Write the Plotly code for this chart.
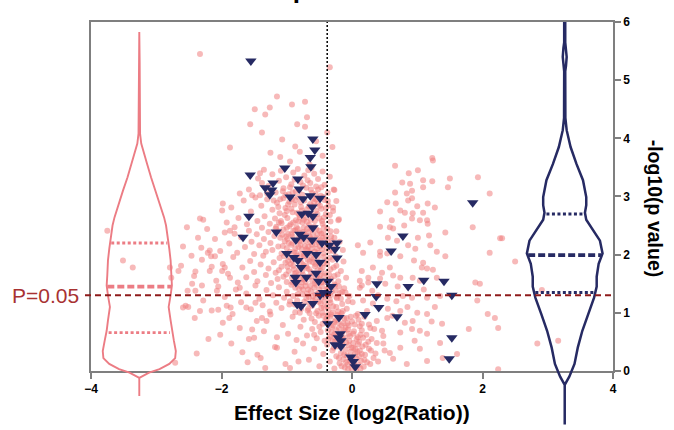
import plotly.graph_objects as go

# ---------------- layout constants ----------------
# The photographed page is squeezed vertically by ~430/438, so the layout is
# laid out on a 438 px tall canvas and reference pixel rows are scaled up.
VIEW_SCALE = 438 / 430
W, H = 674, 438
def vy(py_ref):
    return py_ref * VIEW_SCALE

ML, MR, MB = 91, 61, 0
MT = round(vy(22))
PLOT_BOTTOM_PX = vy(370)      # pixel row of y = 0

X_RANGE = [-4, 4]
Y_RANGE = [0, 6]
x_ticks = [-4, -2, 0, 2, 4]
y_ticks = [0, 1, 2, 3, 4, 5, 6]

p_threshold_y = 1.301         # -log10(0.05)
effect_cut = -0.38            # vertical dotted line
title_text = "Up Proteins"
x_title = "Effect Size (log2(Ratio))"
y_title = "-log10(p value)"
p_label = "P=0.05"

# ---------------- pink points (all measurements) ----------------
pink_upper = [(-2.33,5.45),(-0.34,5.22),(-1.15,4.72),(-0.92,4.58),(-0.72,4.63),(-1.49,4.50),
    (-1.26,4.53),(-1.33,4.41),(-1.56,4.24),(-0.69,4.36),(-0.84,4.24),(-0.72,4.20),(-1.38,4.10),
    (-0.38,4.10),(-1.87,3.84),(-1.07,3.98),(-0.87,3.86),(-0.80,3.77),(-1.10,3.68),(-0.95,3.60),
    (-0.55,3.95),(-0.45,3.70),(-1.25,3.75),(-0.65,3.55),(-0.30,3.85)]
pink_band_30 = [(-1.58,3.12),(-1.44,3.31),(-1.41,3.02),(-1.35,3.46),(-1.28,3.18),(-1.22,3.38),
    (-1.17,3.07),(-1.12,3.27),(-1.09,3.44),(-1.05,3.14),(-1.01,3.33),(-0.97,3.04),(-0.93,3.21),
    (-0.90,3.41),(-0.86,3.09),(-0.83,3.47),(-0.79,3.25),(-0.76,3.03),(-0.73,3.36),(-0.70,3.15),
    (-0.67,3.45),(-0.64,3.23),(-0.61,3.06),(-0.58,3.39),(-0.55,3.17),(-0.52,3.30),(-0.48,3.01),
    (-0.45,3.43),(-0.42,3.20),(-0.37,3.06),(-0.34,3.34),(-0.27,3.11),(-1.30,3.05),(-0.88,3.29),
    (-0.62,3.49)]
pink_band_25 = [(-1.92,2.55),(-1.85,2.81),(-1.74,2.63),(-1.66,2.93),(-1.61,2.52),(-1.55,2.74),
    (-1.48,2.98),(-1.45,2.58),(-1.39,2.84),(-1.34,2.66),(-1.30,2.95),(-1.26,2.53),(-1.22,2.77),
    (-1.18,2.62),(-1.15,2.89),(-1.11,2.71),(-1.08,2.54),(-1.05,2.97),(-1.02,2.80),(-0.99,2.63),
    (-0.96,2.91),(-0.94,2.52),(-0.91,2.73),(-0.88,2.86),(-0.86,2.59),(-0.83,2.99),(-0.81,2.68),
    (-0.78,2.82),(-0.76,2.55),(-0.73,2.93),(-0.71,2.64),(-0.69,2.78),(-0.66,2.51),(-0.64,2.87),
    (-0.62,2.69),(-0.59,2.96),(-0.57,2.58),(-0.55,2.76),(-0.52,2.88),(-0.50,2.62),(-0.47,2.79),
    (-0.45,2.53),(-0.42,2.94),(-0.40,2.70),(-0.36,2.84),(-0.33,2.57),(-0.29,2.75),(-0.24,2.92),
    (-0.20,2.61),(-1.00,2.75),(-0.84,2.72),(-0.74,2.60),(-0.60,2.83),(-0.92,2.95),(-1.20,2.93)]
pink_band_20 = [(-2.31,2.12),(-2.22,2.44),(-2.10,2.27),(-2.02,2.06),(-1.95,2.38),(-1.88,2.19),
    (-1.80,2.47),(-1.76,2.03),(-1.70,2.30),(-1.64,2.13),(-1.58,2.41),(-1.54,2.22),(-1.50,2.01),
    (-1.46,2.35),(-1.42,2.16),(-1.38,2.46),(-1.35,2.27),(-1.32,2.05),(-1.28,2.39),(-1.25,2.20),
    (-1.22,2.08),(-1.19,2.32),(-1.16,2.48),(-1.13,2.14),(-1.10,2.29),(-1.08,2.02),(-1.05,2.43),
    (-1.03,2.23),(-1.00,2.11),(-0.98,2.36),(-0.96,2.49),(-0.93,2.17),(-0.91,2.31),(-0.89,2.04),
    (-0.87,2.42),(-0.84,2.24),(-0.82,2.13),(-0.80,2.38),(-0.78,2.01),(-0.76,2.27),(-0.74,2.46),
    (-0.72,2.15),(-0.70,2.33),(-0.68,2.07),(-0.66,2.40),(-0.64,2.21),(-0.62,2.10),(-0.60,2.35),
    (-0.58,2.48),(-0.56,2.18),(-0.54,2.28),(-0.52,2.03),(-0.50,2.41),(-0.48,2.25),(-0.46,2.09),
    (-0.44,2.37),(-0.41,2.19),(-0.38,2.45),(-0.35,2.06),(-0.32,2.31),(-0.28,2.14),(-0.24,2.40),
    (-0.19,2.22),(-0.14,2.08),(-0.97,2.20),(-0.85,2.47),(-0.79,2.17),(-0.69,2.44),(-0.57,2.05),
    (-1.12,2.40)]
pink_band_15 = [(-2.42,1.63),(-2.30,1.91),(-2.18,1.72),(-2.08,1.55),(-1.98,1.84),(-1.90,1.67),
    (-1.82,1.96),(-1.75,1.52),(-1.68,1.78),(-1.62,1.61),(-1.56,1.89),(-1.50,1.70),(-1.45,1.54),
    (-1.40,1.83),(-1.36,1.98),(-1.32,1.65),(-1.28,1.76),(-1.24,1.51),(-1.20,1.87),(-1.17,1.69),
    (-1.14,1.58),(-1.11,1.94),(-1.08,1.79),(-1.05,1.62),(-1.02,1.86),(-1.00,1.53),(-0.97,1.72),
    (-0.95,1.95),(-0.92,1.60),(-0.90,1.81),(-0.88,1.67),(-0.85,1.50),(-0.83,1.90),(-0.81,1.74),
    (-0.79,1.57),(-0.77,1.85),(-0.75,1.65),(-0.73,1.97),(-0.71,1.53),(-0.69,1.77),(-0.67,1.62),
    (-0.65,1.88),(-0.63,1.70),(-0.61,1.55),(-0.59,1.93),(-0.57,1.80),(-0.55,1.59),(-0.53,1.73),
    (-0.51,1.86),(-0.49,1.64),(-0.47,1.52),(-0.45,1.78),(-0.43,1.96),(-0.41,1.68),(-0.38,1.84),
    (-0.36,1.57),(-0.33,1.75),(-0.30,1.91),(-0.27,1.63),(-0.24,1.81),(-0.21,1.54),(-0.17,1.72),
    (-0.13,1.88),(-0.09,1.60),(-0.98,1.89),(-0.86,1.59),(-0.74,1.82),(-0.62,1.95),(-0.50,1.58),
    (-1.12,1.73)]
pink_band_10 = [(-2.55,1.12),(-2.40,1.38),(-2.28,1.21),(-2.15,1.04),(-2.05,1.45),(-1.95,1.27),
    (-1.86,1.09),(-1.78,1.40),(-1.70,1.18),(-1.62,1.33),(-1.55,1.06),(-1.48,1.47),(-1.42,1.24),
    (-1.37,1.13),(-1.31,1.39),(-1.26,1.02),(-1.21,1.30),(-1.16,1.17),(-1.12,1.44),(-1.08,1.08),
    (-1.04,1.26),(-1.00,1.36),(-0.96,1.14),(-0.93,1.48),(-0.90,1.29),(-0.87,1.01),(-0.84,1.21),
    (-0.81,1.41),(-0.78,1.07),(-0.76,1.32),(-0.73,1.19),(-0.71,1.46),(-0.68,1.04),(-0.66,1.27),
    (-0.63,1.37),(-0.61,1.12),(-0.58,1.43),(-0.56,1.23),(-0.53,1.03),(-0.51,1.34),(-0.48,1.16),
    (-0.46,1.45),(-0.43,1.09),(-0.41,1.28),(-0.39,1.40),(-0.36,1.05),(-0.34,1.22),(-0.31,1.36),
    (-0.29,1.11),(-0.26,1.47),(-0.23,1.25),(-0.21,1.02),(-0.18,1.34),(-0.15,1.15),(-0.12,1.42),
    (-0.08,1.07),(-0.04,1.29),(0.01,1.18),(-0.55,1.48),(-0.65,1.16),(-0.45,1.00),(-0.35,1.45),
    (-0.75,1.40),(-0.24,1.10),(-0.95,1.20)]
pink_band_05 = [(-2.02,0.62),(-1.88,0.91),(-1.72,0.74),(-1.58,0.55),(-1.46,0.86),(-1.35,0.68),
    (-1.25,0.97),(-1.15,0.58),(-1.06,0.79),(-0.98,0.64),(-0.91,0.93),(-0.85,0.53),(-0.79,0.76),
    (-0.74,0.88),(-0.69,0.61),(-0.65,0.99),(-0.61,0.72),(-0.57,0.84),(-0.54,0.56),(-0.51,0.95),
    (-0.48,0.67),(-0.45,0.81),(-0.42,0.52),(-0.39,0.90),(-0.37,0.70),(-0.34,0.59),(-0.32,0.97),
    (-0.29,0.78),(-0.27,0.63),(-0.25,0.87),(-0.22,0.54),(-0.20,0.74),(-0.18,0.94),(-0.15,0.66),
    (-0.13,0.82),(-0.11,0.57),(-0.08,0.91),(-0.06,0.71),(-0.03,0.60),(0.00,0.85),(0.03,0.68),
    (0.06,0.95),(0.09,0.58),(0.12,0.77),(-0.44,0.95),(-0.30,0.51),(-0.16,0.99),(-0.58,0.62),
    (-0.24,0.70),(-0.10,0.74),(-0.35,0.83),(-0.50,0.76),(-0.04,0.52),(-0.62,0.90),(-0.19,0.60)]
pink_band_00 = [(-1.40,0.22),(-1.18,0.41),(-1.02,0.12),(-0.88,0.33),(-0.75,0.47),(-0.66,0.19),
    (-0.58,0.38),(-0.50,0.08),(-0.44,0.29),(-0.38,0.45),(-0.34,0.16),(-0.30,0.35),(-0.27,0.04),
    (-0.24,0.25),(-0.21,0.42),(-0.19,0.13),(-0.17,0.31),(-0.15,0.48),(-0.13,0.20),(-0.11,0.06),
    (-0.10,0.37),(-0.08,0.27),(-0.07,0.11),(-0.05,0.44),(-0.04,0.18),(-0.02,0.33),(-0.01,0.05),
    (0.01,0.24),(0.02,0.40),(0.03,0.14),(0.05,0.30),(0.06,0.02),(0.07,0.21),(0.09,0.46),
    (0.10,0.10),(0.12,0.35),(0.14,0.17),(0.16,0.42),(0.18,0.07),(0.20,0.28),(0.23,0.15),
    (0.26,0.38),(-0.06,0.03),(0.00,0.12),(0.04,0.08),(-0.03,0.21),(0.08,0.33),(-0.12,0.28),
    (-0.20,0.22),(0.11,0.25),(-0.09,0.15),(0.13,0.04),(-0.28,0.40),(-0.16,0.08),(0.02,0.48)]
pink_core_extra = [(-1.06,3.09),(-0.95,3.16),(-0.81,3.11),(-0.68,3.28),(-0.52,3.12),(-0.44,2.99),
    (-1.13,2.82),(-1.03,2.68),(-0.93,2.79),(-0.82,2.57),(-0.72,2.71),(-0.63,2.60),(-0.53,2.70),
    (-0.43,2.64),(-0.37,2.92),(-0.58,2.90),(-0.79,2.90),(-1.09,2.58),(-1.17,2.45),(-1.07,2.34),
    (-0.99,2.27),(-0.90,2.41),(-0.81,2.30),(-0.71,2.24),(-0.61,2.43),(-0.53,2.35),(-0.45,2.29),
    (-0.37,2.22),(-0.43,2.47),(-0.65,2.31),(-0.75,2.39),(-0.87,2.11),(-0.95,2.05),(-1.06,2.15),
    (-0.77,2.09),(-0.67,2.14),(-0.59,2.25),(-0.49,2.14),(-0.39,2.11),(-0.31,2.23),(-1.04,1.97),
    (-0.94,1.84),(-0.84,1.98),(-0.76,1.72),(-0.68,1.91),(-0.58,1.67),(-0.52,1.96),(-0.44,1.85),
    (-0.35,1.66),(-0.28,1.78),(-0.40,1.53),(-0.48,1.72),(-0.56,1.84),(-0.66,1.75),(-0.72,1.60),
    (-0.82,1.65),(-0.89,1.75),(-1.01,1.66),(-0.91,1.52),(-0.25,1.97),(-0.78,1.45),(-0.69,1.33),
    (-0.60,1.21),(-0.50,1.40),(-0.42,1.19),(-0.33,1.30),(-0.25,1.38),(-0.17,1.24),(-0.10,1.35),
    (-0.38,1.11),(-0.47,1.26),(-0.56,1.32),(-0.64,1.46),(-0.70,1.25),(-0.83,1.32),(-0.88,1.14),
    (-0.80,1.00),(-0.20,1.45),(-0.14,1.03),(-0.06,1.20)]
pink_core_dense = [(-1.02,3.02),(-0.91,3.07),(-0.75,3.19),(-0.63,3.12),(-0.56,3.04),(-0.47,3.16),
    (-1.10,2.95),(-0.98,2.86),(-0.87,2.94),(-0.77,2.76),(-0.66,2.83),(-0.55,2.95),(-0.49,2.84),
    (-0.40,2.80),(-0.34,2.68),(-0.46,2.58),(-0.58,2.66),(-0.69,2.56),(-0.80,2.64),(-0.90,2.55),
    (-1.00,2.46),(-1.12,2.55),(-0.93,2.35),(-0.83,2.44),(-0.73,2.35),(-0.63,2.27),(-0.55,2.44),
    (-0.47,2.36),(-0.40,2.30),(-0.33,2.40),(-0.27,2.29),(-0.51,2.21),(-0.61,2.17),(-0.70,2.09),
    (-0.80,2.23),(-0.91,2.20),(-1.01,2.31),(-0.86,2.03),(-0.74,1.99),(-0.64,2.03),(-0.54,2.10),
    (-0.44,2.02),(-0.34,1.95),(-0.29,2.06),(-0.39,1.90),(-0.49,1.80),(-0.60,1.87),(-0.70,1.80),
    (-0.79,1.91),(-0.91,1.90),(-0.99,1.79),(-0.86,1.69),(-0.74,1.57),(-0.63,1.62),(-0.53,1.66),
    (-0.43,1.63),(-0.32,1.58),(-0.22,1.66),(-0.27,1.49),(-0.37,1.42),(-0.46,1.53),(-0.57,1.51),
    (-0.67,1.40),(-0.77,1.52),(-0.87,1.43),(-0.60,1.29),(-0.51,1.19),(-0.43,1.30),(-0.33,1.17),
    (-0.24,1.27),(-0.15,1.36),(-0.29,1.01),(-0.37,0.96),(-0.47,1.08),(-0.55,0.99),(-0.67,1.07),
    (-0.41,0.86),(-0.31,0.75),(-0.21,0.83),(-0.12,0.70),(-0.05,0.78),(-0.27,0.58),(-0.17,0.51)]
pink_v_extra = [(-0.33,0.93),(-0.27,0.84),(-0.22,0.96),(-0.16,0.78),(-0.12,0.90),(-0.07,0.82),
    (-0.02,0.93),(0.04,0.80),(0.10,0.88),(0.15,0.70),(0.19,0.93),(0.22,0.62),(0.26,0.80),
    (0.30,0.55),(0.34,0.72),(0.38,0.48),(0.29,0.35),(0.33,0.22),(0.25,0.50),(0.21,0.45),
    (0.17,0.57),(0.13,0.62),(0.07,0.55),(0.02,0.64),(-0.05,0.64),(-0.09,0.49),(-0.14,0.55),
    (-0.18,0.46),(-0.23,0.60),(-0.26,0.50),(-0.31,0.66),(-0.36,0.55),(0.05,0.38),(0.15,0.29),
    (0.19,0.19),(0.28,0.12),(0.36,0.30),(0.40,0.16),(-0.01,0.40),(0.11,0.50)]
pink_left_sparse = [(-3.75,2.41),(-3.51,1.90),(-3.36,1.78),(-2.79,1.78),(-2.77,1.60),(-2.53,2.47),
    (-2.36,2.29),(-2.33,2.62),(-2.28,2.60),(-2.59,2.14),(-2.21,2.03),(-2.16,1.97),(-2.45,1.50),
    (-2.30,1.47),(-2.59,1.09),(-2.51,1.10),(-2.41,0.91),(-2.33,1.03),(-2.05,1.05),(-1.98,0.83),
    (-1.92,1.12),(-1.83,0.98),(-1.72,1.43),(-1.62,1.09),(-1.48,1.17),(-1.38,0.91),(-1.53,0.71),
    (-1.50,0.57),(-1.31,0.86),(-1.15,0.40),(-1.33,0.05),(-2.71,0.14),(-1.98,2.88),(-1.99,2.76),
    (-1.72,3.05),(-1.53,3.02),(-1.87,2.41),(-1.80,2.36),(-1.41,3.40),(-1.38,3.23),(-2.18,2.07),
    (-2.10,1.97),(-2.15,1.79),(-1.99,1.72),(-1.87,1.60),(-1.95,1.78),(-2.07,1.38),(-2.52,1.38),
    (-2.66,1.72),(-2.62,1.81),(-2.46,1.98),(-2.40,1.71),(-1.85,0.47),(-1.68,0.32),(-1.45,0.28),
    (-1.60,0.15),(-0.95,0.05),(-0.82,0.16),(-2.20,0.55),(-2.38,0.30)]
pink_mid = [(-0.28,3.12),(-0.21,2.59),(-0.29,2.81),(0.12,1.55),(0.15,1.47),(0.25,1.52),
    (0.09,2.16),(0.28,2.21),(0.17,2.03),(0.43,2.05),(0.15,1.72),(0.32,1.78),(0.25,1.60),
    (0.43,1.59),(0.12,1.43),(0.31,1.38),(0.17,1.21),(0.32,1.16),(0.23,1.03),(0.09,0.98),
    (0.38,0.86),(0.15,0.81),(0.28,0.74)]
pink_right = [(1.23,3.66),(1.24,3.62),(0.66,3.53),(1.01,3.45),(0.87,3.40),(1.93,3.33),(1.50,3.31),
    (1.09,3.28),(1.23,3.26),(0.77,3.24),(0.89,3.22),(1.47,3.16),(1.09,3.16),(0.66,3.07),(0.92,3.10),
    (0.84,3.05),(2.11,3.05),(0.92,2.97),(0.86,2.93),(0.54,2.90),(0.67,2.88),(1.00,2.83),(1.16,2.88),
    (1.27,2.81),(0.43,2.74),(0.74,2.76),(0.81,2.72),(0.93,2.71),(1.09,2.72),(1.15,2.59),(1.16,2.53),
    (1.04,2.59),(0.61,2.59),(0.92,2.62),(0.43,2.48),(0.58,2.47),(0.63,2.45),(1.43,2.38),(1.85,2.47),
    (2.27,2.28),(2.11,2.03),(2.50,1.88),(0.55,2.29),(0.69,2.24),(1.01,2.29),(1.20,2.16),(1.18,2.33),
    (0.97,2.10),(0.86,2.16),(0.54,2.02),(0.43,1.98),(0.74,1.97),(1.09,1.86),(1.07,1.78),(1.15,1.76),
    (1.24,1.74),(1.43,1.97),(1.30,1.60),(0.58,1.78),(0.46,1.69),(0.63,1.64),(0.74,1.60),(0.51,1.50),
    (0.93,1.60),(1.04,1.55),(1.89,1.52),(1.96,1.50),(1.92,1.21),(1.35,1.29),(1.15,1.26),(0.92,1.26),
    (0.78,1.29),(0.54,1.24),(0.55,1.07),(0.74,1.03),(1.00,1.00),(1.15,0.98),(0.93,0.86),(0.81,0.83),
    (0.54,0.91),(0.46,0.69),(0.48,0.60),(0.74,0.66),(0.92,0.72),(1.04,0.69),(1.15,0.64),(1.38,0.81),
    (1.35,0.48),(1.04,0.38),(0.74,0.40),(0.58,0.31),(0.48,0.47),(2.08,0.98),(2.19,0.91),(2.24,0.74),
    (1.79,0.72),(1.61,0.29),(1.39,0.22),(1.15,0.17),(0.84,0.12),(0.63,0.21),(2.84,0.47),(3.16,0.52),
    (2.24,0.03),(2.91,1.39),(2.30,2.28),(0.70,1.45),(0.85,1.10),(0.62,0.95),(1.10,1.40),(0.95,1.90),
    (0.80,2.50),(1.30,2.05),(0.68,1.20),(1.22,0.85),(0.40,1.30),(0.50,0.35),(0.96,0.52),(1.27,1.10)]

# ---------------- triangles (highlighted subset) ----------------
tri_pts = [(-1.55,5.33),(-0.60,3.99),(-0.57,3.80),(-0.64,3.67),(-0.63,3.51),(-1.03,3.49),
    (-1.56,3.37),(-0.83,3.30),(-1.21,3.23),(-1.33,3.15),(-1.23,3.11),(-0.81,3.13),(-1.26,3.03),
    (-0.95,2.99),(-0.64,3.01),(-0.49,2.97),(-0.75,2.96),(-0.61,2.82),(-1.58,2.66),(-0.77,2.70),
    (-0.67,2.71),(-0.60,2.66),(-0.60,2.46),(-1.16,2.39),(-1.67,2.30),(-0.80,2.35),(-0.74,2.30),
    (-0.86,2.25),(-0.61,2.25),(-0.46,2.20),(-0.35,2.16),(-0.23,2.20),(-0.26,2.09),(-1.00,2.02),
    (-0.89,1.95),(-0.83,1.90),(-0.69,2.02),(-0.55,2.00),(-0.49,1.87),(-0.23,1.94),(-0.78,1.78),
    (-0.55,1.68),(-0.87,1.61),(-0.70,1.61),(-0.86,1.52),(-0.51,1.54),(-0.37,1.54),(-0.32,1.45),
    (-0.44,1.35),(-0.49,1.30),(-0.38,1.33),(-0.84,1.14),(-0.78,1.11),(-0.60,1.16),(-0.20,0.92),
    (-0.37,0.81),(-0.18,0.64),(-0.21,0.57),(-0.17,0.52),(-0.26,0.45),(-0.17,0.42),(-0.02,0.24),
    (0.02,0.16),(0.05,0.07),(0.78,2.32),(0.60,2.06),(1.85,2.89),(0.38,1.50),(0.86,1.45),
    (1.10,1.56),(1.41,1.54),(0.37,1.28),(1.53,1.30),(0.41,1.09),(0.20,0.97),(0.69,0.93),
    (1.53,0.57),(1.49,0.21)]

# ---------------- violins (profile: y, half width) ----------------
left_violin_center = -3.26
left_violin_y = [-0.43,-0.12,-0.09,-0.03,0.03,0.12,0.22,0.34,0.52,0.69,0.87,1.10,1.30,1.47,
    1.65,1.90,2.10,2.30,2.50,2.64,2.87,3.10,3.33,3.56,3.74,3.91,4.08,4.70,5.30,5.83]
left_violin_hw = [0,0,0.05,0.15,0.31,0.46,0.55,0.56,0.53,0.50,0.48,0.45,0.48,0.50,
    0.49,0.48,0.46,0.44,0.41,0.38,0.32,0.25,0.18,0.12,0.07,0.03,0.012,0.008,0.006,0]
left_quart_y = [0.66, 1.45, 2.20]
left_quart_hw = [0.47, 0.49, 0.43]

right_violin_center = 3.26
right_violin_y = [-0.92,-0.24,-0.10,0.12,0.40,0.69,0.98,1.26,1.45,1.62,1.84,2.02,2.24,2.47,
    2.60,2.72,2.85,2.99,3.28,3.56,3.85,4.14,4.35,5.15,5.25,5.40,5.55,5.65,6.30]
right_violin_hw = [0,0,0.07,0.15,0.20,0.27,0.36,0.45,0.49,0.49,0.52,0.58,0.54,0.41,
    0.33,0.31,0.33,0.33,0.28,0.18,0.09,0.03,0.01,0.008,0.02,0.03,0.02,0.008,0.008]
right_quart_y = [1.35, 1.99, 2.70]
right_quart_hw = [0.45, 0.56, 0.28]

PINK = "rgba(240,128,128,0.55)"
VIOLIN_PINK = "#ec7c84"
NAVY = "#262a63"
DARKRED = "#8e1b1b"
LABEL_RED = "#a83232"
FONT = "Liberation Sans, Arial, sans-serif"
SPINE = "#7f7f7f"

# ---------------- geometry helpers ----------------
paper_h = H - MT - MB
def px_to_paper_y(py):
    return (H - MB - py) / paper_h
def px_to_paper_x(px):
    return (px - ML) / (W - ML - MR)

main_bottom = px_to_paper_y(PLOT_BOTTOM_PX)
px_per_unit = (PLOT_BOTTOM_PX - MT) / (Y_RANGE[1] - Y_RANGE[0])
y2_min = Y_RANGE[1] - paper_h / px_per_unit

fig = go.Figure()

pink_all = (pink_upper + pink_band_30 + pink_band_25 + pink_band_20 + pink_band_15 +
            pink_band_10 + pink_band_05 + pink_band_00 + pink_core_extra + pink_core_dense +
            pink_v_extra + pink_left_sparse + pink_mid + pink_right)
fig.add_trace(go.Scatter(x=[p[0] for p in pink_all], y=[p[1] for p in pink_all],
    mode="markers", marker=dict(size=6, color=PINK, line=dict(width=0)),
    hoverinfo="skip", showlegend=False, xaxis="x", yaxis="y"))

fig.add_trace(go.Scatter(x=[p[0] for p in tri_pts], y=[p[1] for p in tri_pts],
    mode="markers", marker=dict(symbol="triangle-down", size=10, color=NAVY, line=dict(width=0)),
    hoverinfo="skip", showlegend=False, xaxis="x", yaxis="y"))

def add_violin(center, ys, hws, qy, qhw, color, width, qwidth):
    xs = [center - h for h in hws] + [center + h for h in reversed(hws)]
    yy = list(ys) + list(reversed(ys))
    fig.add_trace(go.Scatter(x=xs, y=yy, mode="lines", line=dict(color=color, width=width),
        hoverinfo="skip", showlegend=False, xaxis="x2", yaxis="y2"))
    for i, (y, h) in enumerate(zip(qy, qhw)):
        dash = "7px,3px" if i == 1 else "3px,2.5px"
        fig.add_trace(go.Scatter(x=[center - h, center + h], y=[y, y], mode="lines",
            line=dict(color=color, width=qwidth + (0.8 if i == 1 else 0), dash=dash),
            hoverinfo="skip", showlegend=False, xaxis="x2", yaxis="y2"))

add_violin(left_violin_center, left_violin_y, left_violin_hw, left_quart_y, left_quart_hw,
           VIOLIN_PINK, 1.9, 2.8)
add_violin(right_violin_center, right_violin_y, right_violin_hw, right_quart_y, right_quart_hw,
           NAVY, 2.5, 3.0)

# threshold lines
fig.add_shape(type="line", xref="paper", yref="y", x0=px_to_paper_x(85), x1=px_to_paper_x(615),
              y0=p_threshold_y, y1=p_threshold_y, line=dict(color=DARKRED, width=2, dash="6px,4px"))
fig.add_shape(type="line", xref="x", yref="y", x0=effect_cut, x1=effect_cut,
              y0=Y_RANGE[0], y1=Y_RANGE[1], line=dict(color="black", width=1.5, dash="2px,2px"))

tickfont = dict(family=FONT, size=12, color="black", weight="bold")
fig.update_layout(
    width=W, height=H, autosize=False, margin=dict(l=ML, r=MR, t=MT, b=MB),
    paper_bgcolor="white", plot_bgcolor="rgba(0,0,0,0)",
    font=dict(family=FONT),
    xaxis=dict(domain=[0, 1], range=X_RANGE, anchor="y", tickvals=x_ticks,
               ticks="outside", ticklen=6, tickwidth=1.5, tickcolor=SPINE,
               showline=True, linecolor=SPINE, linewidth=1.5, mirror=True,
               showgrid=False, zeroline=False, tickfont=tickfont),
    yaxis=dict(domain=[main_bottom, 1], range=Y_RANGE, anchor="x", side="right",
               tickvals=y_ticks, ticks="outside", ticklen=6, tickwidth=1.5, tickcolor=SPINE,
               showline=True, linecolor=SPINE, linewidth=1.5, mirror=True,
               showgrid=False, zeroline=False, tickfont=tickfont),
    xaxis2=dict(domain=[0, 1], range=X_RANGE, anchor="y2", visible=False),
    yaxis2=dict(domain=[0, 1], range=[y2_min, Y_RANGE[1]], anchor="x2", visible=False),
)

fig.add_annotation(text=x_title, xref="paper", yref="paper", x=0.5, y=px_to_paper_y(vy(412)),
                   xanchor="center", yanchor="middle", showarrow=False,
                   font=dict(family=FONT, size=21, color="black", weight="bold"))
fig.add_annotation(text=y_title, xref="paper", yref="paper", x=px_to_paper_x(655),
                   y=px_to_paper_y(vy(208)), xanchor="center", yanchor="middle", showarrow=False,
                   textangle=90, font=dict(family=FONT, size=19.5, color="black", weight="bold"))
fig.add_annotation(text=p_label, xref="paper", yref="y", x=px_to_paper_x(81), y=p_threshold_y,
                   xanchor="right", yanchor="middle", showarrow=False,
                   font=dict(family=FONT, size=21, color=LABEL_RED))
fig.add_annotation(text=title_text, xref="paper", yref="paper", x=px_to_paper_x(272),
                   y=px_to_paper_y(vy(5.5)), xanchor="left", yanchor="bottom", showarrow=False,
                   font=dict(family=FONT, size=26, color="black", weight="bold"))

fig.write_html("out.html", config={"responsive": False, "displayModeBar": False},
               post_script="document.body.style.margin='0px';document.body.style.padding='0px';")
